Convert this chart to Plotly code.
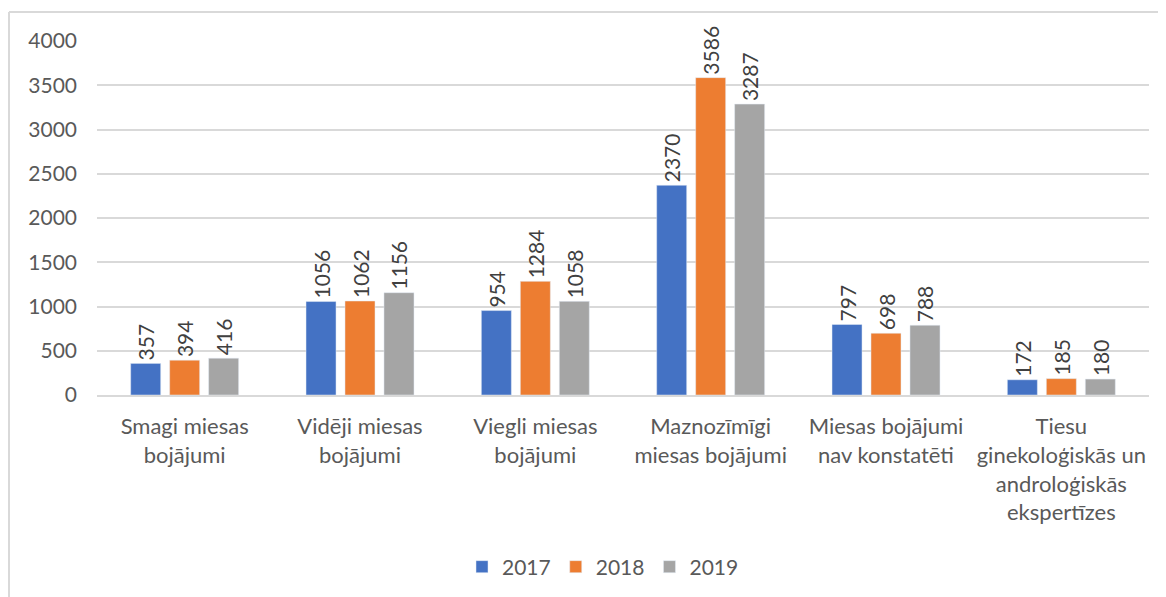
import plotly.graph_objects as go

categories = [
    "Smagi miesas<br>bojājumi",
    "Vidēji miesas<br>bojājumi",
    "Viegli miesas<br>bojājumi",
    "Maznozīmīgi<br>miesas bojājumi",
    "Miesas bojājumi<br>nav konstatēti",
    "Tiesu<br>ginekoloģiskās un<br>androloģiskās<br>ekspertīzes",
]
years = ["2017", "2018", "2019"]
values_2017 = [357, 1056, 954, 2370, 797, 172]
values_2018 = [394, 1062, 1284, 3586, 698, 185]
values_2019 = [416, 1156, 1058, 3287, 788, 180]
colors = ["#4472C4", "#ED7D31", "#A5A5A5"]

# page body has an 8px margin, so the figure is drawn from (8, 8)
OFF = 8
W, H = 1166 - OFF, 597 - OFF
L, R, T, B = 89, 17, 33, 202
pw, ph = W - L - R, H - T - B

fig = go.Figure()
for name, vals, col in zip(years, [values_2017, values_2018, values_2019], colors):
    fig.add_trace(go.Bar(
        x=categories, y=vals, name=name, marker_color=col,
        text=[str(v) for v in vals], textposition="outside", textangle=-90,
        constraintext="none",
        textfont=dict(size=21, color="#404040"), cliponaxis=False,
    ))

def px_x(p):
    return (p - OFF - L) / pw

def px_y(p):
    return (H - B - (p - OFF)) / ph

fig.update_layout(
    width=W, height=H,
    margin=dict(l=L, r=R, t=T, b=B, autoexpand=False),
    paper_bgcolor="white", plot_bgcolor="white",
    font=dict(family="Lato, Open Sans, sans-serif", size=21, color="#595959"),
    barmode="group", bargap=0.333, bargroupgap=0.23,
    legend=dict(orientation="h", x=0.5 - 20 / pw, xanchor="center", y=px_y(567), yanchor="middle",
                font=dict(size=21, color="#595959"), itemwidth=30, traceorder="normal"),
    xaxis=dict(showline=True, linecolor="#d9d9d9", linewidth=2, ticks="",
               tickfont=dict(size=22, color="#595959"), tickangle=0, automargin=False,
               ticklabelstandoff=11),
    yaxis=dict(range=[0, 4000], dtick=500, showgrid=True, gridcolor="#d9d9d9", gridwidth=1.5,
               zeroline=False, showline=False, ticks="", ticklabelstandoff=19, automargin=False,
               tickfont=dict(size=21, color="#595959")),
    shapes=[
        dict(type="line", xref="paper", yref="paper", x0=px_x(9), x1=px_x(1166), y0=px_y(12), y1=px_y(12),
             line=dict(color="#d9d9d9", width=2)),
        dict(type="line", xref="paper", yref="paper", x0=px_x(9), x1=px_x(9), y0=px_y(12), y1=px_y(597),
             line=dict(color="#d9d9d9", width=2)),
    ],
)

fig.write_html("out.html")
